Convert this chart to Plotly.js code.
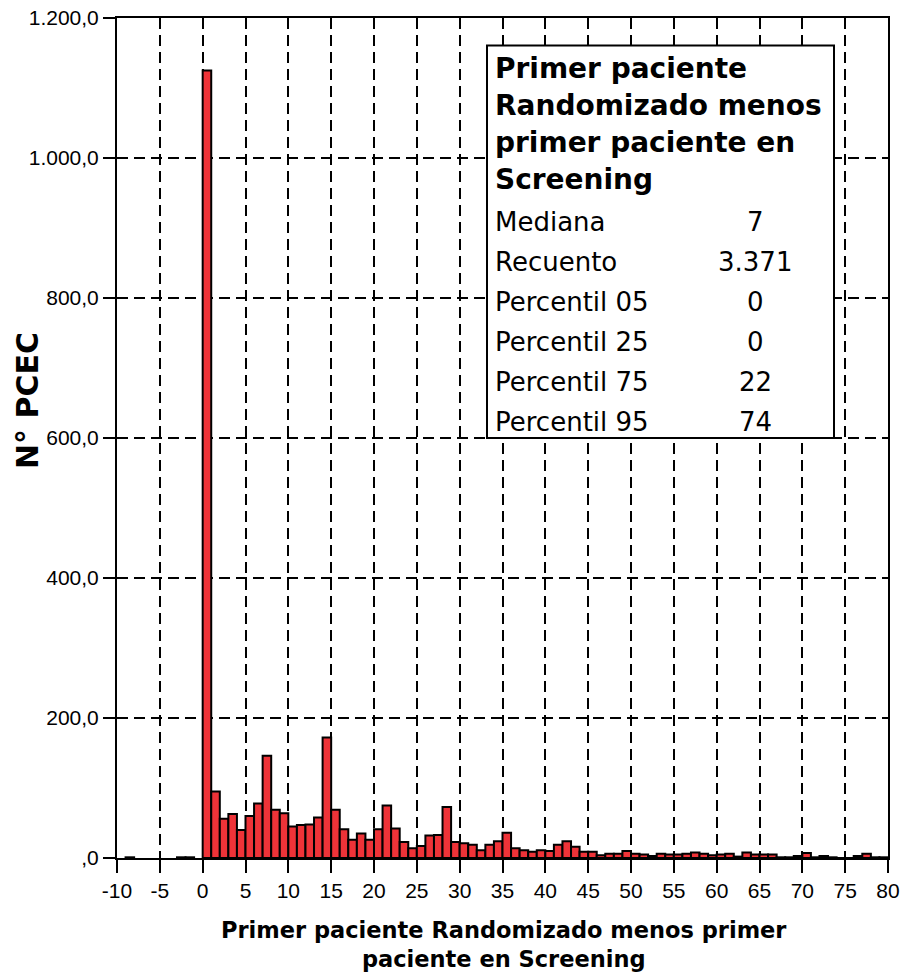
<!DOCTYPE html>
<html>
<head>
<meta charset="utf-8">
<script src="https://cdn.plot.ly/plotly-3.0.1.min.js"></script>
<style>html,body{margin:0;padding:0;background:#fff;}</style>
</head>
<body>
<div id="chart" style="width:901px;height:976px;"></div>
<script>
// ---- data ----
const binStart = [-9, -3, -2,
  0, 1, 2, 3, 4, 5, 6, 7, 8, 9,
  10, 11, 12, 13, 14, 15, 16, 17, 18, 19,
  20, 21, 22, 23, 24, 25, 26, 27, 28, 29,
  30, 31, 32, 33, 34, 35, 36, 37, 38, 39,
  40, 41, 42, 43, 44, 45, 46, 47, 48, 49,
  50, 51, 52, 53, 54, 55, 56, 57, 58, 59,
  60, 61, 62, 63, 64, 65, 66, 67, 68, 69,
  70, 71, 72, 73, 74, 75, 76, 77, 78, 79];
const counts = [1, 1, 1,
  1125, 95, 56, 63, 40, 60, 78, 146, 69, 64,
  45, 47, 48, 58, 172, 69, 41, 26, 35, 26,
  41, 75, 42, 23, 14, 17, 32, 33, 73, 23,
  21, 19, 11, 19, 24, 36, 14, 11, 9, 11,
  10, 19, 24, 16, 9, 9, 4, 6, 6, 10,
  6, 5, 3, 6, 5, 5, 6, 8, 6, 4,
  5, 6, 2, 8, 5, 5, 5, 1, 1, 3,
  7, 1, 3, 1, 0, 0, 3, 6, 1, 1];

const xTickVals = [-10, -5, 0, 5, 10, 15, 20, 25, 30, 35, 40, 45, 50, 55, 60, 65, 70, 75, 80];
const xTickText = ["-10", "-5", "0", "5", "10", "15", "20", "25", "30", "35", "40", "45", "50", "55", "60", "65", "70", "75", "80"];
const yTickVals = [0, 200, 400, 600, 800, 1000, 1200];
const yTickText = [",0", "200,0", "400,0", "600,0", "800,0", "1.000,0", "1.200,0"];

const xTitleLines = ["Primer paciente Randomizado menos primer", "paciente en Screening"];
const yTitle = "N° PCEC";

const statTitle = ["Primer paciente", "Randomizado menos", "primer paciente en", "Screening"];
const statLabels = ["Mediana", "Recuento", "Percentil 05", "Percentil 25", "Percentil 75", "Percentil 95"];
const statValues = ["7", "3.371", "0", "0", "22", "74"];

// ---- layout helpers (pixel -> paper) ----
const L = 117, R = 13, T = 18, B = 118, W = 901, H = 976;
const pw = W - L - R, ph = H - T - B;
const px = x => (x - L) / pw;
const py = y => (H - B - y) / ph;

const ARIAL = "Liberation Sans, Arial, sans-serif";
const TAHOMA = "DejaVu Sans, Verdana, sans-serif";

const annotations = [];
statTitle.forEach((t, i) => {
  annotations.push({xref: 'paper', yref: 'paper', x: px(493), y: py(68 + i * 37.2),
    xanchor: 'left', yanchor: 'middle', showarrow: false, text: '<b>' + t + '</b>',
    font: {family: TAHOMA, size: 28, color: '#000'}});
});
statLabels.forEach((t, i) => {
  annotations.push({xref: 'paper', yref: 'paper', x: px(493), y: py(222 + i * 40),
    xanchor: 'left', yanchor: 'middle', showarrow: false, text: t,
    font: {family: TAHOMA, size: 26, color: '#000'}});
  annotations.push({xref: 'paper', yref: 'paper', x: px(755), y: py(222 + i * 40),
    xanchor: 'center', yanchor: 'middle', showarrow: false, text: statValues[i],
    font: {family: TAHOMA, size: 26, color: '#000'}});
});
annotations.push({xref: 'paper', yref: 'paper', x: px(504), y: py(944),
  xanchor: 'center', yanchor: 'middle', showarrow: false,
  text: xTitleLines.map(t => '<b>' + t + '</b>').join('<br>'),
  font: {family: TAHOMA, size: 22.5, color: '#000'}});
annotations.push({xref: 'paper', yref: 'paper', x: px(27), y: py(401),
  xanchor: 'center', yanchor: 'middle', showarrow: false, textangle: -90,
  text: '<b>' + yTitle + '</b>', font: {family: TAHOMA, size: 30, color: '#000'}});

const axisCommon = {
  showgrid: true, gridcolor: '#000', gridwidth: 2, griddash: '11px,6px',
  showline: true, linecolor: '#000', linewidth: 2, mirror: true,
  ticks: 'outside', tickcolor: '#000', tickwidth: 2,
  zeroline: false, tickmode: 'array',
  tickfont: {family: ARIAL, size: 21, color: '#000'}
};

const trace = {
  type: 'bar', x: binStart, y: counts, offset: 0, width: 1,
  marker: {color: '#EE3338', line: {color: '#000', width: 2}},
  hoverinfo: 'x+y'
};

const layout = {
  width: W, height: H,
  margin: {l: L, r: R, t: T, b: B, pad: 0},
  paper_bgcolor: '#fff', plot_bgcolor: '#fff',
  showlegend: false, bargap: 0,
  xaxis: Object.assign({}, axisCommon, {range: [-10, 80], tickvals: xTickVals, ticktext: xTickText, ticklen: 13}),
  yaxis: Object.assign({}, axisCommon, {range: [0, 1200], tickvals: yTickVals, ticktext: yTickText, ticklen: 12}),
  shapes: [{type: 'rect', xref: 'paper', yref: 'paper', x0: px(487), x1: px(834), y0: py(438), y1: py(45.5),
    line: {color: '#000', width: 2}, fillcolor: '#fff', layer: 'above'}],
  annotations: annotations
};

Plotly.newPlot('chart', [trace], layout, {staticPlot: true, displayModeBar: false});
</script>
</body>
</html>
